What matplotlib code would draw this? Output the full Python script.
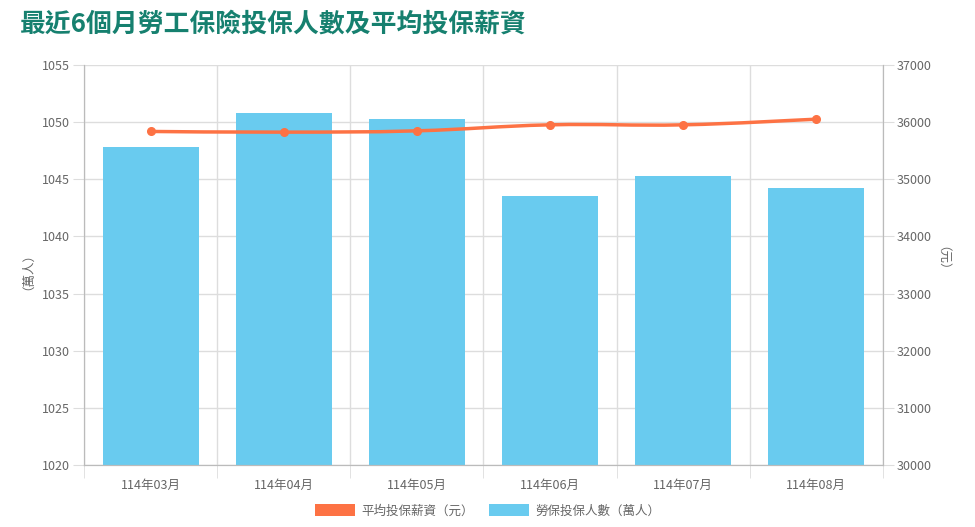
import numpy as np
import matplotlib.pyplot as plt
from matplotlib.path import Path
from matplotlib.patches import PathPatch, Patch

plt.rcParams['font.family'] = ['Noto Sans CJK TC', 'DejaVu Sans']

# data
months = ['114年03月', '114年04月', '114年05月', '114年06月', '114年07月', '114年08月']
insured_people = [1047.84, 1050.76, 1050.26, 1043.54, 1045.26, 1044.24]   # 萬人
avg_salary = [35837, 35825, 35848, 35953, 35953, 36052]                     # 元

BAR_COLOR = '#69cbef'
LINE_COLOR = '#fd7244'
TITLE_COLOR = '#16806f'
TICK_COLOR = '#666666'
GRID_COLOR = '#dddddd'
SPINE_COLOR = '#bbbbbb'


def smooth_path(xs, ys, tension=0.4):
    # bezier control points like a chart.js line with tension
    verts = [(xs[0], ys[0])]
    codes = [Path.MOVETO]
    n = len(xs)
    for i in range(n - 1):
        x0, y0 = xs[max(i - 1, 0)], ys[max(i - 1, 0)]
        x1, y1 = xs[i], ys[i]
        x2, y2 = xs[i + 1], ys[i + 1]
        x3, y3 = xs[min(i + 2, n - 1)], ys[min(i + 2, n - 1)]
        c1 = (x1 + (x2 - x0) * tension / 2, y1 + (y2 - y0) * tension / 2)
        c2 = (x2 - (x3 - x1) * tension / 2, y2 - (y3 - y1) * tension / 2)
        verts += [c1, c2, (x2, y2)]
        codes += [Path.CURVE4] * 3
    return Path(verts, codes)


def main():
    fig = plt.figure(figsize=(9.75, 5.27), dpi=100)
    ax = fig.add_axes([84 / 975, 1 - 465 / 527, 799 / 975, 400 / 527])
    ax2 = ax.twinx()

    x = np.arange(len(months))
    ax.bar(x, insured_people, width=0.72, color=BAR_COLOR, zorder=2)
    ax.set_xlim(-0.5, len(months) - 0.5)
    ax.set_ylim(1020, 1055)
    ax.set_yticks(np.arange(1020, 1056, 5))

    ax2.add_patch(PathPatch(smooth_path(list(x), avg_salary), fill=False,
                            edgecolor=LINE_COLOR, lw=2.5, zorder=3))
    ax2.plot(x, avg_salary, 'o', color=LINE_COLOR, ms=5.5, zorder=4)
    ax2.set_ylim(30000, 37000)
    ax2.set_yticks(np.arange(30000, 37001, 1000))

    # category ticks in the middle, grid lines between categories
    ax.set_xticks(x)
    ax.set_xticklabels(months)
    ax.set_xticks(np.arange(-0.5, len(months)), minor=True)
    ax.tick_params(axis='x', which='major', length=0, pad=10,
                   labelsize=9, labelcolor=TICK_COLOR)
    ax.tick_params(axis='x', which='minor', length=9, color=GRID_COLOR)
    ax.grid(True, which='minor', axis='x', color=GRID_COLOR, lw=1)
    ax.grid(True, which='major', axis='y', color=GRID_COLOR, lw=1)
    ax.set_axisbelow(True)

    ax.tick_params(axis='y', length=8, color=GRID_COLOR, labelsize=9,
                   labelcolor=TICK_COLOR, pad=2)
    ax2.tick_params(axis='y', length=8, color=GRID_COLOR, labelsize=9,
                    labelcolor=TICK_COLOR, pad=2)

    for a in (ax, ax2):
        for s in a.spines.values():
            s.set_color(SPINE_COLOR)
        a.spines['top'].set_visible(False)

    ax.set_ylabel('（萬人）', fontsize=9, color=TICK_COLOR)
    ax.yaxis.set_label_coords(-0.07, 0.5)
    ax2.set_ylabel('（元）', fontsize=9, color=TICK_COLOR, rotation=270,
                   va='center')
    ax2.yaxis.set_label_coords(1.066, 0.5)

    fig.text(20 / 975, 1 - 24 / 527, '最近6個月勞工保險投保人數及平均投保薪資',
             fontsize=18.6, fontweight='bold', color=TITLE_COLOR,
             ha='left', va='center')

    handles = [Patch(facecolor=LINE_COLOR, edgecolor='none'),
               Patch(facecolor=BAR_COLOR, edgecolor='none')]
    fig.legend(handles, ['平均投保薪資（元）', '勞保投保人數（萬人）'],
               loc='center', bbox_to_anchor=(0.5, 1 - 511 / 527), ncol=2,
               frameon=False, fontsize=9, labelcolor=TICK_COLOR,
               handlelength=3.2, handleheight=1.1, handletextpad=0.5,
               columnspacing=1.2)

    fig.savefig('out.png', dpi=100)


if __name__ == '__main__':
    main()
